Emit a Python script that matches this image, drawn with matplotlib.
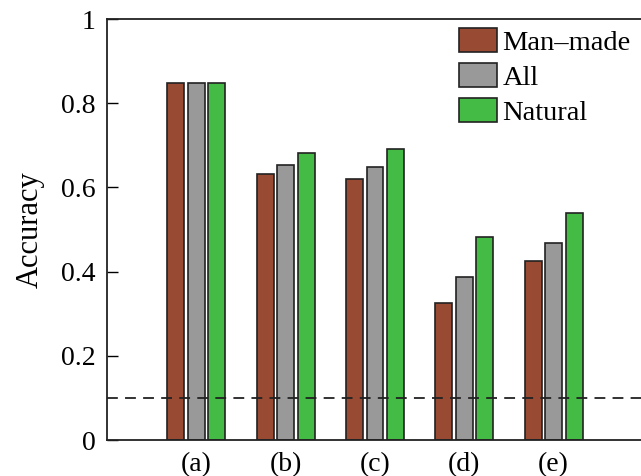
import matplotlib
matplotlib.use("Agg")
import matplotlib.pyplot as plt
import numpy as np

categories = ["(a)", "(b)", "(c)", "(d)", "(e)"]
series_names = ["Man\u2013made", "All", "Natural"]
man_made = [0.849, 0.633, 0.621, 0.325, 0.425]
all_vals = [0.849, 0.653, 0.648, 0.386, 0.468]
natural = [0.849, 0.682, 0.691, 0.482, 0.539]
chance_level = 0.1
yticks = [0, 0.2, 0.4, 0.6, 0.8, 1]
ytick_labels = ["0", "0.2", "0.4", "0.6", "0.8", "1"]

colors = ["#984B32", "#999999", "#44BB44"]

plt.rcParams['font.family'] = ['Liberation Serif', 'DejaVu Serif']

W, H = 641, 476
fig = plt.figure(figsize=(W / 100, H / 100), dpi=100)
ax = fig.add_axes([107 / W, 1 - 440 / H, 536 / W, 421 / H])

x = np.arange(1, len(categories) + 1)
width = 0.19
offset = 0.228
for i, (vals, name, c) in enumerate(zip([man_made, all_vals, natural], series_names, colors)):
    ax.bar(x + (i - 1) * offset, vals, width, color=c, edgecolor="#222222",
           linewidth=1.2, label=name, zorder=2)

ax.axhline(chance_level, color="#222222", linestyle=(0, (6, 4)), linewidth=1.3, zorder=3)

ax.set_xlim(0, 6)
ax.set_ylim(0, 1)
ax.set_xticks(x)
ax.set_xticklabels(categories, fontsize=20)
ax.set_yticks(yticks)
ax.set_yticklabels(ytick_labels, fontsize=20)
ax.tick_params(axis='y', direction='in', length=8, width=1, pad=8)
ax.tick_params(axis='x', direction='in', length=0, pad=9)
ax.set_ylabel("Accuracy", fontsize=22, labelpad=12)

for s in ["left", "bottom", "top"]:
    ax.spines[s].set_linewidth(1.3)
    ax.spines[s].set_color("#222222")
ax.spines["right"].set_visible(False)

leg = ax.legend(loc="upper left", bbox_to_anchor=(459 / W, 1 - 28 / H),
                bbox_transform=fig.transFigure, frameon=False, fontsize=20.5,
                handlelength=1.32, handleheight=0.93, handletextpad=0.2,
                labelspacing=0.25, borderpad=0, borderaxespad=0)

fig.savefig("out.png", dpi=100)
